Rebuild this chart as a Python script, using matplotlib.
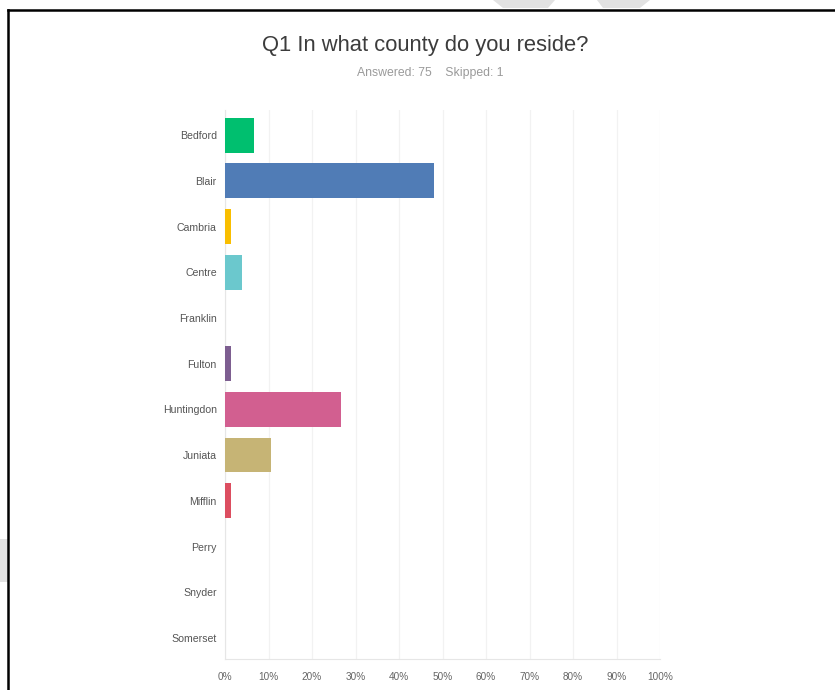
import matplotlib
matplotlib.use("Agg")
import matplotlib.pyplot as plt
from matplotlib.patches import Polygon
from matplotlib.lines import Line2D

counties = ["Bedford", "Blair", "Cambria", "Centre", "Franklin", "Fulton",
            "Huntingdon", "Juniata", "Mifflin", "Perry", "Snyder", "Somerset"]
shares = [6.67, 48.00, 1.33, 4.00, 0.00, 1.33, 26.67, 10.67, 1.33, 0.00, 0.00, 0.00]
colors = ["#00bf6f", "#507cb6", "#f9be00", "#6bc8cd", "#ff8b4f", "#7d5e90",
          "#d25f90", "#c6b475", "#dc4e60", "#a9a9a9", "#4e9fd1", "#9bc45a"]
tick_values = list(range(0, 101, 10))
tick_labels = [f"{v}%" for v in tick_values]
title = "Q1 In what county do you reside?"
subtitle = "Answered: 75    Skipped: 1"

plt.rcParams["font.family"] = ["Liberation Sans", "DejaVu Sans"]

fig = plt.figure(figsize=(8.35, 6.9), dpi=100)
W, H = 835, 690

# light watermark fragments
wm = "#e2e2e2"
fig.patches.append(Polygon([(493 / W, 1), (555 / W, 1), (548 / W, 1 - 8 / H), (503 / W, 1 - 8 / H)],
                           closed=True, transform=fig.transFigure, facecolor=wm, edgecolor="none", zorder=0))
fig.patches.append(Polygon([(597 / W, 1), (650 / W, 1), (640 / W, 1 - 8 / H), (603 / W, 1 - 8 / H)],
                           closed=True, transform=fig.transFigure, facecolor=wm, edgecolor="none", zorder=0))
fig.patches.append(Polygon([(0, 1 - 539 / H), (8 / W, 1 - 539 / H), (8 / W, 1 - 582 / H), (0, 1 - 582 / H)],
                           closed=True, transform=fig.transFigure, facecolor=wm, edgecolor="none", zorder=0))

# frame lines: top and left
fig.add_artist(Line2D([8 / W, 1], [1 - 10 / H, 1 - 10 / H], transform=fig.transFigure,
                      color="black", linewidth=1.8))
fig.add_artist(Line2D([8 / W, 8 / W], [1 - 10 / H, 0], transform=fig.transFigure,
                      color="black", linewidth=1.8))

ax = fig.add_axes([225 / W, (H - 659) / H, (660 - 225) / W, (659 - 110) / H])
y = list(range(len(counties)))
ax.barh(y, shares, height=0.76, color=colors, zorder=3)
ax.set_xlim(0, 100)
ax.set_ylim(11.46, -0.55)

ax.set_yticks(y)
ax.set_yticklabels(counties, fontsize=7.6, color="#555555")
ax.set_xticks(tick_values)
ax.set_xticklabels(tick_labels, fontsize=7.2, color="#666666")
ax.tick_params(axis="both", length=0)
ax.tick_params(axis="y", pad=6)
ax.tick_params(axis="x", pad=9)

ax.grid(axis="x", color="#f2f2f2", linewidth=0.9, zorder=0)
for side in ["top", "right"]:
    ax.spines[side].set_visible(False)
ax.spines["left"].set_color("#e6e6e6")
ax.spines["bottom"].set_color("#e6e6e6")

fig.text(425 / W, 1 - 45 / H, title, ha="center", va="center", fontsize=15.8, color="#3c3c3c")
fig.text(430 / W, 1 - 73 / H, subtitle, ha="center", va="center", fontsize=8.8, color="#9a9a9a")

fig.savefig("out.png", dpi=100, facecolor="white")
